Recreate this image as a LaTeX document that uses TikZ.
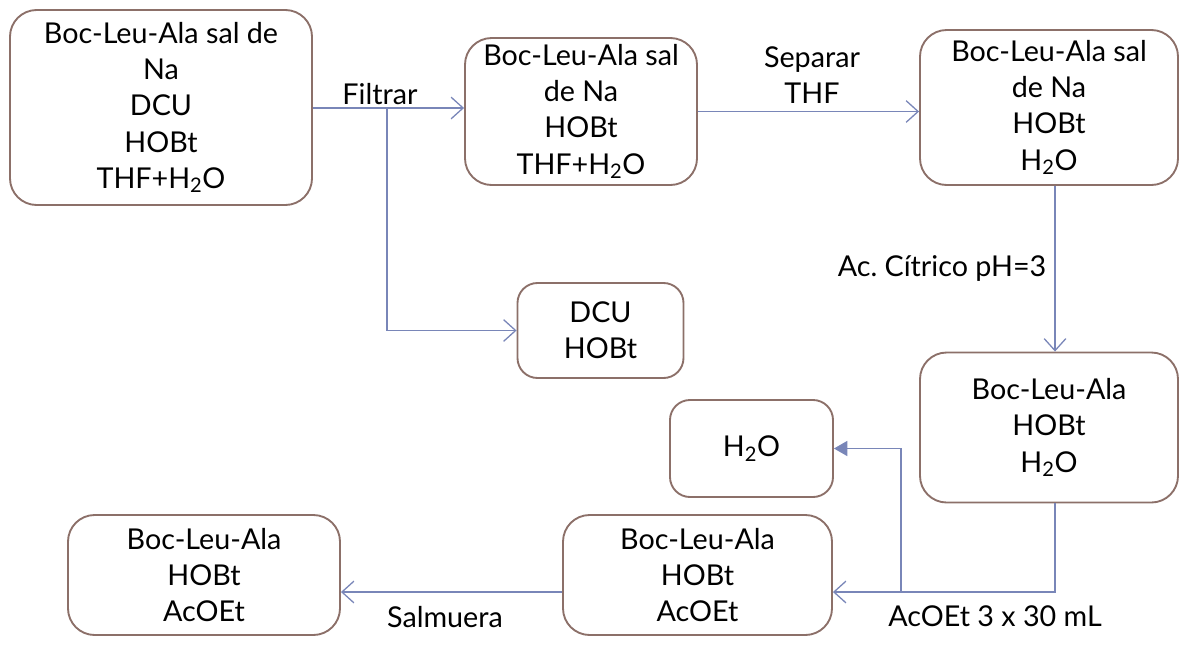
\documentclass[tikz,border=0pt]{standalone}
\usepackage{fontspec}
\setmainfont{Lato}
\usepackage{tikz}
\usetikzlibrary{arrows.meta}
\definecolor{borde}{HTML}{8C7069}
\definecolor{linea}{HTML}{7986B8}
\newcommand{\agua}{H\textsubscript{2}O}
\tikzstyle{mezcla} = [rectangle, rounded corners=0.8cm, draw=borde, line width=1.6pt, align=center, inner sep=0pt, 
font=\fontsize{24.5}{31}\selectfont]
\tikzstyle{etiqueta} = [align=center, inner sep=0pt, font=\fontsize{24.5}{31}\selectfont]
\tikzstyle{flecha} = [draw=linea, line width=1.1pt, -{Straight Barb[length=3.6mm, width=6.5mm]}]
\tikzstyle{flecha_llena} = [draw=linea, line width=1.1pt, -{Triangle[length=4mm, width=4.5mm]}]

\begin{document}
\begin{tikzpicture}[x=0.03cm, y=-0.03cm]
    \useasboundingbox (0,0) rectangle (1179,667);

    \node(Inicial)[mezcla, minimum width=9.06cm, minimum height=5.85cm] at (161,107.5)
	  {Boc-Leu-Ala sal de\\ Na\\ DCU\\ HOBt\\ THF+\agua};

    \node(Sal)[mezcla, minimum width=6.96cm, minimum height=4.41cm] at (581,111.5)
	  {Boc-Leu-Ala sal\\ de Na\\ HOBt\\ THF+\agua};

    \node(Acuosa)[mezcla, minimum width=7.74cm, minimum height=4.65cm] at (1049,107.5)
	  {Boc-Leu-Ala sal\\ de Na\\ HOBt\\ \agua};

    \node(Solido)[mezcla, rounded corners=0.6cm, minimum width=4.98cm, minimum height=2.85cm] at (600.5,330.5)
	  {DCU\\ HOBt};

    \node(Acida)[mezcla, minimum width=7.74cm, minimum height=4.5cm] at (1049,427.5)
	  {Boc-Leu-Ala\\ HOBt\\ \agua};

    \node(Agua)[mezcla, rounded corners=0.6cm, minimum width=4.89cm, minimum height=2.91cm] at (751.5,448.5)
	  {\agua};

    \node(Organica)[mezcla, minimum width=8.07cm, minimum height=3.6cm] at (697.5,575)
	  {Boc-Leu-Ala\\ HOBt\\ AcOEt};

    \node(Final)[mezcla, minimum width=8.16cm, minimum height=3.6cm] at (204,575)
	  {Boc-Leu-Ala\\ HOBt\\ AcOEt};

    % etiquetas de las flechas
    \node(filtrar)[etiqueta] at (380,94) {Filtrar};
    \node(separar)[etiqueta] at (812,75) {Separar\\ THF};
    \node(citrico)[etiqueta] at (942,268) {Ac.\ Cítrico pH=3};
    \node(extraer)[etiqueta] at (995,616) {AcOEt 3 x 30 mL};
    \node(salmuera)[etiqueta] at (445,617) {Salmuera};

    \coordinate(rama) at (387,108);
    \coordinate(esquina) at (1055,592);
    \coordinate(rama2) at (901,592);

    \draw[flecha] (Inicial.east |- rama) -- (Sal.west |- rama);
    \draw[flecha] (rama) |- (Solido.west);
    \draw[flecha] (Sal.east) -- (Sal.east -| Acuosa.west);
    \draw[flecha] (Acuosa.south -| esquina) -- (Acida.north -| esquina);
    \draw[flecha] (Acida.south -| esquina) -- (esquina) -- (esquina -| Organica.east);
    \draw[flecha_llena] (rama2) |- (Agua.east);
    \draw[flecha] (Organica.west |- esquina) -- (Final.east |- esquina);

\end{tikzpicture}
\end{document}
